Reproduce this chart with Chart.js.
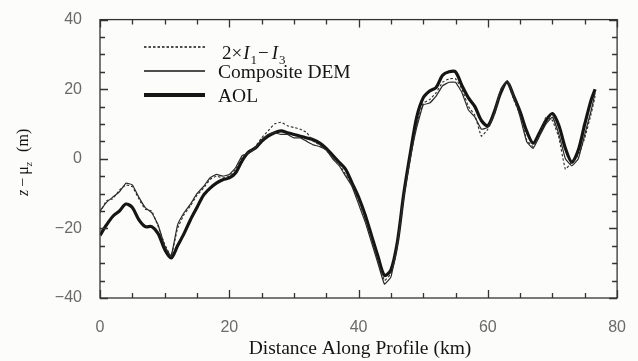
<!DOCTYPE html>
<html>
<head>
<meta charset="utf-8">
<script src="https://cdn.jsdelivr.net/npm/chart.js@4"></script>
<style>
  html, body { margin: 0; padding: 0; background: #fcfcfa; }
  #wrap { width: 638px; height: 361px; position: relative; }
</style>
</head>
<body>
<div id="wrap"><canvas id="profileChart"></canvas></div>
<script>
// distance along profile (km)
const distanceKm = [0,1,2,3,4,5,6,7,8,9,10,11,12,13,14,15,16,17,18,19,20,21,22,23,24,25,26,27,28,29,30,31,32,33,34,35,36,37,38,39,40,41,42,43,44,45,46,47,48,49,50,51,52,53,54,55,56,57,58,59,60,61,62,63,64,65,66,67,68,69,70,71,72,73,74,75,76,76.6];

// 2 x I1 - I3 (dashed)
const interfValues = [-15.5,-12,-11.5,-9,-7.5,-8,-11.5,-14.5,-15,-19.5,-24.5,-28,-20,-16,-13.5,-10.5,-8.5,-6,-5,-5.5,-5,-3,0.5,2,3.5,6,8,10,10.5,9.5,9,8.5,7.5,5,4,2.5,0.5,-1.5,-4.5,-7.5,-12,-17,-23,-29,-35,-33,-24.5,-10.5,0.5,10,16,17,19,22,23,23,20,15,12.5,6.5,8.5,12.5,19.5,22,17,12.5,5.5,3.5,7,12,11,6,-3,-1,1,6,13,18];

// Composite DEM (thin)
const demValues = [-15,-12.5,-11,-9.5,-7,-7.5,-11,-14,-15.5,-19,-25,-28,-19,-15.5,-13,-10,-8,-5.5,-4.5,-5,-4.5,-2.5,1,1.5,3,5.5,7,7.5,7,7,6,6,5,4,3.5,2.5,0,-2,-5,-8,-13,-18,-24,-30,-36,-34,-25,-11,0,9,15.5,16,18,21,22,22,19,14,12,8.5,9,13,20,22.5,18,12,5,3,6.5,10,12,7,0,-2,0,7,14,19];

// AOL (thick)
const aolValues = [-22,-19,-16.5,-15,-13,-14,-17.5,-19.5,-19.5,-21.5,-26,-28.5,-25,-21.5,-17.5,-14,-10.5,-8.5,-7,-6,-5.5,-4,-0.5,2,3,5,6.5,7.5,8,7.5,7,6.5,6,5.5,4.5,3,1,-1,-3,-7,-11,-16,-22,-28,-33.5,-32,-24,-10,1.5,12,17.5,19.5,20.5,24,25,25,21,17.5,15,11,9.5,13.5,19,22,18,13.5,8,4.5,7.5,11,13,9.5,3,-1,2.5,10,17,20];

const xTicks = [0, 20, 40, 60, 80];
const yTicks = [-40, -20, 0, 20, 40];

const ink = "#151515";
const serif = "'Liberation Serif', 'DejaVu Serif', serif";

function toPoints(vals) {
    return vals.map((v, i) => ({ x: distanceKm[i], y: v }));
}

// draws frame, inward ticks, legend and axis titles
const decorPlugin = {
    id: "decor",
    afterDraw(chart) {
        const ctx = chart.ctx;
        const a = chart.chartArea;
        const sx = chart.scales.x;
        const sy = chart.scales.y;
        ctx.save();
        ctx.strokeStyle = "#333";
        ctx.lineWidth = 1.3;
        ctx.strokeRect(a.left, a.top, a.right - a.left, a.bottom - a.top);

        // x ticks every 5 km, top and bottom
        for (let v = 0; v <= 80; v += 5) {
            const px = Math.round(sx.getPixelForValue(v)) + 0.5;
            const len = v % 20 === 0 ? 8 : 5;
            ctx.beginPath();
            ctx.moveTo(px, a.bottom); ctx.lineTo(px, a.bottom - len);
            ctx.moveTo(px, a.top); ctx.lineTo(px, a.top + len);
            ctx.stroke();
        }
        // y ticks every 5 m, left and right
        for (let v = -40; v <= 40; v += 5) {
            const py = Math.round(sy.getPixelForValue(v)) + 0.5;
            const len = v % 20 === 0 ? 8 : 5;
            ctx.beginPath();
            ctx.moveTo(a.left, py); ctx.lineTo(a.left + len, py);
            ctx.moveTo(a.right, py); ctx.lineTo(a.right - len, py);
            ctx.stroke();
        }

        // legend
        ctx.strokeStyle = ink;
        ctx.fillStyle = ink;
        const lx0 = 144, lx1 = 205;
        ctx.lineWidth = 1.3;
        ctx.setLineDash([2.5, 2]);
        ctx.beginPath(); ctx.moveTo(lx0, 47); ctx.lineTo(lx1, 47); ctx.stroke();
        ctx.setLineDash([]);
        ctx.lineWidth = 1.3;
        ctx.beginPath(); ctx.moveTo(lx0, 71); ctx.lineTo(lx1, 71); ctx.stroke();
        ctx.lineWidth = 4;
        ctx.beginPath(); ctx.moveTo(lx0, 95); ctx.lineTo(lx1, 95); ctx.stroke();

        ctx.textBaseline = "alphabetic";
        ctx.textAlign = "left";
        let tx = 222;
        const parts = [
            ["2\u00d7", "19px " + serif, 0],
            ["I", "italic 19px " + serif, 0],
            ["1", "13px " + serif, 5],
            ["\u2212", "19px " + serif, 0],
            ["I", "italic 19px " + serif, 0],
            ["3", "13px " + serif, 5]
        ];
        parts.forEach(([t, f, dy]) => {
            ctx.font = f;
            ctx.fillText(t, tx, 59 + dy);
            tx += ctx.measureText(t).width + (t === "\u2212" ? 3 : 1);
        });
        ctx.font = "19.5px " + serif;
        ctx.fillText("Composite DEM", 218, 78);
        ctx.fillText("AOL", 218, 102);

        // x title
        ctx.textAlign = "center";
        ctx.font = "19.5px " + serif;
        ctx.fillText("Distance Along Profile (km)", 360, 354);

        // y title, rotated
        ctx.translate(28, 156);
        ctx.rotate(-Math.PI / 2);
        ctx.textAlign = "left";
        ctx.font = "italic 16px " + serif;
        let ty = -40;
        ctx.fillText("z", ty, 0); ty += ctx.measureText("z").width + 3;
        ctx.font = "16px " + serif;
        ctx.fillText("\u2212", ty, 0); ty += ctx.measureText("\u2212").width + 3;
        ctx.fillText("\u03bc", ty, 0); ty += ctx.measureText("\u03bc").width;
        ctx.font = "italic 11px " + serif;
        ctx.fillText("z", ty, 4); ty += ctx.measureText("z").width + 10;
        ctx.font = "16px " + serif;
        ctx.fillText("(m)", ty, 0);
        ctx.restore();
    }
};

const ctx = document.getElementById("profileChart").getContext("2d");
new Chart(ctx, {
    type: "line",
    data: {
        datasets: [
            {
                label: "2×I1−I3",
                data: toPoints(interfValues),
                borderColor: "#2a2a2a",
                borderWidth: 1.1,
                borderDash: [2.5, 2],
                pointRadius: 0,
                tension: 0.1,
                fill: false
            },
            {
                label: "Composite DEM",
                data: toPoints(demValues),
                borderColor: "#2a2a2a",
                borderWidth: 1.2,
                pointRadius: 0,
                tension: 0.1,
                fill: false
            },
            {
                label: "AOL",
                data: toPoints(aolValues),
                borderColor: ink,
                borderWidth: 3.2,
                pointRadius: 0,
                tension: 0.3,
                fill: false
            }
        ]
    },
    options: {
        responsive: true,
        maintainAspectRatio: false,
        animation: false,
        layout: { padding: { left: 0, right: 18, top: 14, bottom: 0 } },
        plugins: {
            legend: { display: false },
            tooltip: { enabled: false }
        },
        scales: {
            x: {
                type: "linear",
                min: 0,
                max: 80,
                afterBuildTicks: s => { s.ticks = xTicks.map(v => ({ value: v })); },
                afterFit: s => { s.height = 63; },
                ticks: { color: "#6a6a6a", padding: 12, font: { family: "'Liberation Sans', sans-serif", size: 16 } },
                grid: { display: false },
                border: { display: false }
            },
            y: {
                min: -40,
                max: 40,
                afterBuildTicks: s => { s.ticks = yTicks.map(v => ({ value: v })); },
                afterFit: s => { s.width = 100; },
                ticks: {
                    color: "#6a6a6a",
                    padding: 10,
                    font: { family: "'Liberation Sans', sans-serif", size: 16 },
                    callback: v => String(v).replace("-", "\u2212")
                },
                grid: { display: false },
                border: { display: false }
            }
        }
    },
    plugins: [decorPlugin]
});
</script>
</body>
</html>
